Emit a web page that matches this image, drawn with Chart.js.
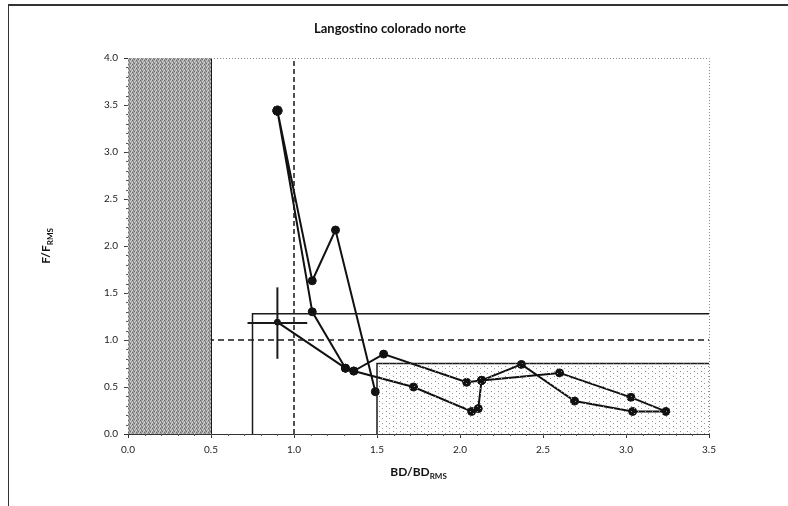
<!DOCTYPE html>
<html lang="es">
<head>
<meta charset="UTF-8">
<title>Langostino colorado norte</title>
<script src="https://cdn.jsdelivr.net/npm/chart.js"></script>
<style>
    body { margin: 0; background: #fff; }
    .wrap { position: relative; width: 788px; height: 506px; }
    .frame { position: absolute; left: 8px; top: 4px; right: 0; bottom: 0;
             border-left: 1px solid #333; border-top: 2px solid #333; pointer-events: none; }
    canvas { position: absolute; left: 0; top: 0; }
</style>
</head>
<body>
<div class="wrap">
    <canvas id="kobe" width="788" height="506"></canvas>
    <div class="frame"></div>
</div>
<script>
// trajectory (BD/BDrms, F/Frms); null = break in the line
const pathBD = [0.90, 1.11, 1.25, 1.49, null,
                0.90, 1.11, 1.31, 1.36, 1.54, 2.04, 2.13, 2.11, 2.07, 1.72, 1.36, null,
                2.13, 2.37, 2.69, 3.04, 3.24, 3.03, 2.60, 2.13, null,
                1.31, 0.90];
const pathF  = [3.44, 1.63, 2.17, 0.45, null,
                3.44, 1.30, 0.70, 0.67, 0.85, 0.55, 0.57, 0.27, 0.24, 0.50, 0.67, null,
                0.57, 0.74, 0.35, 0.24, 0.24, 0.39, 0.65, 0.57, null,
                0.70, 1.19];

// last year confidence bars
const ciHorBD = [0.72, 1.08], ciHorF = [1.18, 1.18];
const ciVerBD = [0.90, 0.90], ciVerF = [0.80, 1.56];

// reference points / zones
const collapseBD = [0, 0.5], collapseF = [4, 4];
const limitBD = [0.75, 0.75, 3.5], limitF = [0, 1.28, 1.28];
const fullBD = [1.5, 1.5, 3.5], fullF = [0, 0.75, 0.75];
const targetHBD = [0, 3.5], targetHF = [1, 1];
const targetVBD = [1, 1], targetVF = [0, 4];

const xTickLabels = ['0.0', '0.5', '1.0', '1.5', '2.0', '2.5', '3.0', '3.5'];
const yTickLabels = ['0.0', '0.5', '1.0', '1.5', '2.0', '2.5', '3.0', '3.5', '4.0'];

const FONT = 'Lato, "Open Sans", sans-serif';

function pts(xs, ys) {
    return xs.map((x, i) => ({ x: x, y: ys[i] }));
}

function makePattern(w, h, base, dots) {
    const c = document.createElement('canvas');
    c.width = w; c.height = h;
    const g = c.getContext('2d');
    if (base) { g.fillStyle = base; g.fillRect(0, 0, w, h); }
    dots.forEach(d => { g.fillStyle = d[2]; g.fillRect(d[0], d[1], 1, 1); });
    return g.createPattern(c, 'repeat');
}

const ctx = document.getElementById('kobe').getContext('2d');
const grayFill = makePattern(4, 4, '#a4a4a4', [
    [0, 0, '#6a6a6a'], [2, 1, '#d2d2d2'], [1, 2, '#7a7a7a'], [3, 3, '#cccccc'],
    [3, 0, '#c8c8c8'], [1, 1, '#888888'], [2, 3, '#707070'], [0, 2, '#d8d8d8']
]);
const dotFill = makePattern(7, 5, null, [[1, 1, '#8a8a8a'], [4, 3, '#9a9a9a']]);

const textPlugin = {
    id: 'texts',
    afterDraw(chart) {
        const g = chart.ctx, a = chart.chartArea;
        const xs = chart.scales.x, ys = chart.scales.y;
        g.save();
        // dotted top / right border of plot
        g.strokeStyle = '#888';
        g.lineWidth = 1;
        g.setLineDash([1, 2]);
        g.beginPath();
        g.moveTo(xs.getPixelForValue(0.5), a.top + 0.5);
        g.lineTo(a.right + 0.5, a.top + 0.5);
        g.lineTo(a.right + 0.5, a.bottom);
        g.stroke();
        g.setLineDash([]);
        // minor ticks
        g.strokeStyle = '#555';
        g.beginPath();
        for (let i = 1; i < 35; i++) {
            const px = Math.round(xs.getPixelForValue(i / 10)) + 0.5;
            g.moveTo(px, a.bottom); g.lineTo(px, a.bottom + 2);
        }
        for (let i = 1; i < 40; i++) {
            const py = Math.round(ys.getPixelForValue(i / 10)) + 0.5;
            g.moveTo(a.left, py); g.lineTo(a.left - 2, py);
        }
        g.stroke();
        // title
        g.fillStyle = '#111';
        g.textAlign = 'center';
        g.textBaseline = 'middle';
        g.font = 'bold 13px ' + FONT;
        g.fillText('Langostino colorado norte', 390, 29);
        // x axis title with subscript
        const cx = (a.left + a.right) / 2;
        g.font = 'bold 12px ' + FONT;
        const main = 'BD/BD';
        g.font = 'bold 8px ' + FONT;
        const subW = g.measureText('RMS').width;
        g.font = 'bold 12px ' + FONT;
        const mainW = g.measureText(main).width;
        let sx = cx - (mainW + subW) / 2;
        g.textAlign = 'left';
        g.fillText(main, sx, 472);
        g.font = 'bold 8px ' + FONT;
        g.fillText('RMS', sx + mainW, 476);
        // y axis title rotated
        g.translate(46, (a.top + a.bottom) / 2);
        g.rotate(-Math.PI / 2);
        g.font = 'bold 12px ' + FONT;
        const ym = 'F/F';
        const ymW = g.measureText(ym).width;
        g.font = 'bold 8px ' + FONT;
        const ysW = g.measureText('RMS').width;
        sx = -(ymW + ysW) / 2;
        g.font = 'bold 12px ' + FONT;
        g.fillText(ym, sx, 0);
        g.font = 'bold 8px ' + FONT;
        g.fillText('RMS', sx + ymW, 4);
        g.restore();
    }
};

function refLine(data, width, dash) {
    return {
        data: data, showLine: true, pointRadius: 0, fill: false,
        borderColor: '#1a1a1a', borderWidth: width, borderDash: dash || [],
        tension: 0
    };
}

const isStart = c => c.raw && c.raw.x === pathBD[0] && c.raw.y === pathF[0];
const lastIdx = pathBD.length - 1;

new Chart(ctx, {
    type: 'scatter',
    data: {
        datasets: [
            { data: pts(collapseBD, collapseF), showLine: true, pointRadius: 0,
              fill: 'origin', backgroundColor: grayFill, borderWidth: 0 },
            { data: pts(fullBD.slice(1), fullF.slice(1)), showLine: true, pointRadius: 0,
              fill: 'origin', backgroundColor: dotFill, borderWidth: 0 },
            refLine(pts([collapseBD[0], collapseBD[1], collapseBD[1]], [collapseF[0], collapseF[1], 0]), 2),
            refLine(pts(targetHBD, targetHF), 1.5, [6, 4]),
            refLine(pts(targetVBD, targetVF), 1.5, [5, 3]),
            refLine(pts(limitBD, limitF), 1.5),
            refLine(pts(fullBD, fullF), 1.5),
            refLine(pts(ciHorBD, ciHorF), 2),
            refLine(pts(ciVerBD, ciVerF), 2),
            {
                data: pts(pathBD, pathF), showLine: true, spanGaps: false,
                borderColor: '#111', borderWidth: 2, tension: 0,
                pointBackgroundColor: '#111', pointBorderColor: '#111',
                pointStyle: c => isStart(c) ? 'star' : 'circle',
                pointRadius: c => isStart(c) ? 5 : (c.dataIndex === lastIdx ? 3 : 4),
                pointBorderWidth: c => isStart(c) ? 3 : 1
            }
        ]
    },
    options: {
        responsive: false,
        animation: false,
        layout: { padding: { top: 58, right: 79, bottom: 0, left: 0 } },
        plugins: { legend: { display: false }, tooltip: { enabled: false } },
        scales: {
            x: {
                type: 'linear', min: 0, max: 3.5,
                afterFit: s => { s.height = 72; },
                ticks: { stepSize: 0.5, color: '#222', padding: 6,
                         font: { family: FONT, size: 10 },
                         callback: (v) => xTickLabels[Math.round(v * 2)] },
                grid: { drawOnChartArea: false, drawTicks: true, tickLength: 4, color: '#333' },
                border: { display: true, color: '#333', width: 1 }
            },
            y: {
                type: 'linear', min: 0, max: 4,
                afterFit: s => { s.width = 128; },
                ticks: { stepSize: 0.5, color: '#222', padding: 6,
                         font: { family: FONT, size: 10 },
                         callback: (v) => yTickLabels[Math.round(v * 2)] },
                grid: { drawOnChartArea: false, drawTicks: true, tickLength: 4, color: '#333' },
                border: { display: true, color: '#333', width: 1 }
            }
        }
    },
    plugins: [textPlugin]
});
</script>
</body>
</html>
